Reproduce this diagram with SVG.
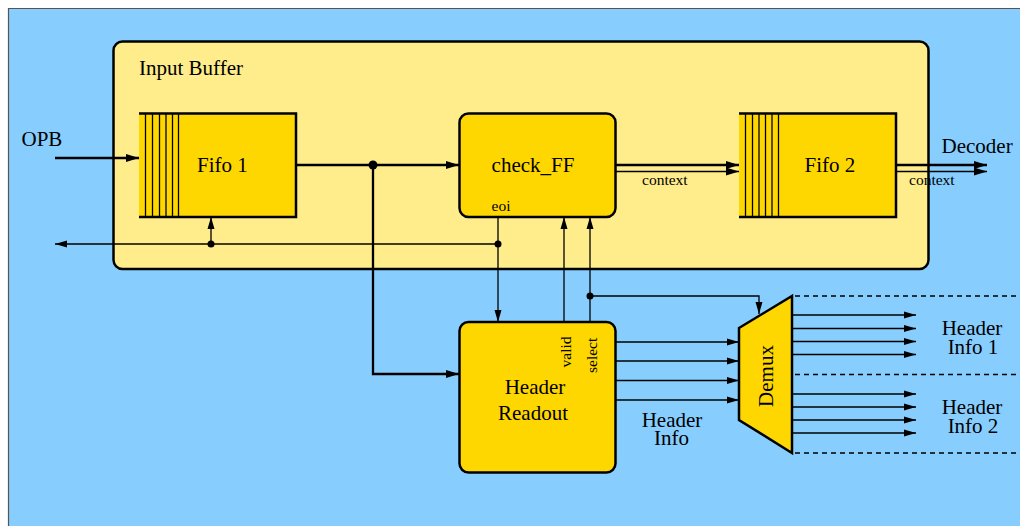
<svg xmlns="http://www.w3.org/2000/svg" width="1020" height="527" viewBox="0 0 1020 527" font-family="'Liberation Serif', 'DejaVu Serif', serif">
  <defs>
    <marker id="ah" viewBox="0 0 12 8" refX="12" refY="4" markerWidth="12" markerHeight="8" markerUnits="userSpaceOnUse" orient="auto">
      <path d="M0,0.5 L12,4 L0,7.5 Z" fill="#000"/>
    </marker>
    <marker id="ahb" viewBox="0 0 13 9" refX="13" refY="4.5" markerWidth="13" markerHeight="9" markerUnits="userSpaceOnUse" orient="auto">
      <path d="M0,0.5 L13,4.5 L0,8.5 Z" fill="#000"/>
    </marker>
  </defs>
  <style>
    text { font-family: 'Liberation Serif', 'DejaVu Serif', serif; fill: #000; }
    .lbl { font-size: 21px; }
    .sm { font-size: 15.5px; }
    .mid { text-anchor: middle; }
    .box { fill: #FFD700; stroke: #000; stroke-width: 2.5; }
    .edge { fill: none; stroke: #000; stroke-width: 2.5; }
    .slot { stroke: #000; stroke-width: 1.3; }
    .thick { fill: none; stroke: #000; stroke-width: 2.3; }
    .thin { fill: none; stroke: #000; stroke-width: 1.3; }
    .dash { fill: none; stroke: #000; stroke-width: 1.3; stroke-dasharray: 5 4; }
  </style>

  <!-- background panel -->
  <rect x="0" y="0" width="1020" height="527" fill="#fff"/>
  <rect x="9" y="9" width="1011" height="517" fill="#87CEFF"/>
  <path d="M8.5,526 V8.5 H1020" fill="none" stroke="#555" stroke-width="1.2"/>

  <!-- Input Buffer container -->
  <g id="input-buffer">
    <rect x="113.5" y="41.5" width="815" height="227.5" rx="9" fill="#FFEC8B" stroke="#000" stroke-width="2.5"/>
    <text class="lbl" x="139" y="74.5">Input Buffer</text>
  </g>

  <!-- Fifo 1 -->
  <g id="fifo1">
    <rect x="139" y="113.5" width="157" height="103.5" fill="#FFD700"/>
    <path class="edge" d="M139,113.5 H296 V217 H139"/>
    <g class="slot">
      <line x1="145.5" y1="113.5" x2="145.5" y2="217"/>
      <line x1="152.5" y1="113.5" x2="152.5" y2="217"/>
      <line x1="159.5" y1="113.5" x2="159.5" y2="217"/>
      <line x1="166" y1="113.5" x2="166" y2="217"/>
      <line x1="172.5" y1="113.5" x2="172.5" y2="217"/>
      <line x1="178.5" y1="113.5" x2="178.5" y2="217"/>
    </g>
    <text class="lbl mid" x="222.5" y="172">Fifo 1</text>
  </g>

  <!-- check_FF -->
  <g id="check-ff">
    <rect class="box" x="459.5" y="113.5" width="156" height="103.5" rx="9"/>
    <text class="lbl mid" x="533" y="171.5">check_FF</text>
    <text class="sm" x="491.5" y="210.5">eoi</text>
  </g>

  <!-- Fifo 2 -->
  <g id="fifo2">
    <rect x="739" y="113.5" width="157" height="103.5" fill="#FFD700"/>
    <path class="edge" d="M739,113.5 H896 V217 H739"/>
    <g class="slot">
      <line x1="745.5" y1="113.5" x2="745.5" y2="217"/>
      <line x1="752.5" y1="113.5" x2="752.5" y2="217"/>
      <line x1="759" y1="113.5" x2="759" y2="217"/>
      <line x1="765.5" y1="113.5" x2="765.5" y2="217"/>
      <line x1="772" y1="113.5" x2="772" y2="217"/>
      <line x1="778.5" y1="113.5" x2="778.5" y2="217"/>
    </g>
    <text class="lbl mid" x="830" y="171.5">Fifo 2</text>
  </g>

  <!-- Header Readout -->
  <g id="header-readout">
    <rect class="box" x="459.5" y="322" width="156" height="150.5" rx="9"/>
    <text class="lbl mid" x="535" y="394">Header</text>
    <text class="lbl mid" x="533" y="419.5">Readout</text>
    <text class="sm" transform="translate(570.5,367.5) rotate(-90)">valid</text>
    <text class="sm" transform="translate(596.5,373) rotate(-90)">select</text>
  </g>

  <!-- Demux -->
  <g id="demux">
    <path d="M739,328 L792,296 L792,453 L739,420 Z" fill="#FFD700" stroke="#000" stroke-width="2.5" stroke-linejoin="miter"/>
    <text class="lbl mid" transform="translate(772.5,376) rotate(-90)">Demux</text>
  </g>

  <!-- free labels -->
  <g id="labels">
    <text class="lbl" x="21.5" y="145.5">OPB</text>
    <text class="lbl" x="941.5" y="152.5">Decoder</text>
    <text class="sm" x="642" y="185">context</text>
    <text class="sm" x="909" y="184.5">context</text>
    <text class="lbl mid" x="672" y="426.5">Header</text>
    <text class="lbl mid" x="671.5" y="445">Info</text>
    <text class="lbl mid" x="972" y="335">Header</text>
    <text class="lbl mid" x="973" y="354">Info 1</text>
    <text class="lbl mid" x="972" y="414">Header</text>
    <text class="lbl mid" x="973" y="432.5">Info 2</text>
  </g>

  <!-- connectors -->
  <g id="connectors">
    <!-- main data path -->
    <line class="thick" x1="55" y1="158" x2="139" y2="158" marker-end="url(#ahb)"/>
    <line class="thick" x1="296" y1="165" x2="459" y2="165" marker-end="url(#ahb)"/>
    <path class="thick" d="M373,165 V374 H459" marker-end="url(#ahb)"/>
    <circle cx="373" cy="165" r="4.5" fill="#000"/>

    <!-- check_FF to Fifo 2 with context -->
    <line class="thick" x1="615.5" y1="165" x2="739" y2="165" marker-end="url(#ahb)"/>
    <line class="thin" x1="615.5" y1="171.5" x2="739" y2="171.5" marker-end="url(#ahb)"/>

    <!-- Fifo 2 to Decoder with context -->
    <line class="thick" x1="896" y1="165" x2="987" y2="165" marker-end="url(#ahb)"/>
    <line class="thin" x1="896" y1="171.5" x2="987" y2="171.5" marker-end="url(#ahb)"/>

    <!-- eoi feedback -->
    <line class="thin" x1="498" y1="244" x2="55" y2="244" marker-end="url(#ah)"/>
    <line class="thin" x1="211" y1="244" x2="211" y2="217" marker-end="url(#ah)"/>
    <line class="thin" x1="498" y1="217" x2="498" y2="322" marker-end="url(#ah)"/>
    <circle cx="211" cy="244" r="3.5" fill="#000"/>
    <circle cx="498" cy="244" r="3.5" fill="#000"/>

    <!-- valid / select -->
    <line class="thin" x1="564" y1="322" x2="564" y2="217" marker-end="url(#ah)"/>
    <line class="thin" x1="590" y1="322" x2="590" y2="217" marker-end="url(#ah)"/>
    <path class="thin" d="M590,296 H759 V314" marker-end="url(#ah)"/>
    <circle cx="590" cy="296" r="3.5" fill="#000"/>

    <!-- header info into demux -->
    <line class="thin" x1="615.5" y1="342" x2="739" y2="342" marker-end="url(#ah)"/>
    <line class="thin" x1="615.5" y1="361" x2="739" y2="361" marker-end="url(#ah)"/>
    <line class="thin" x1="615.5" y1="380.5" x2="739" y2="380.5" marker-end="url(#ah)"/>
    <line class="thin" x1="615.5" y1="400" x2="739" y2="400" marker-end="url(#ah)"/>

    <!-- demux outputs -->
    <line class="thin" x1="792" y1="315" x2="916" y2="315" marker-end="url(#ah)"/>
    <line class="thin" x1="792" y1="328.5" x2="916" y2="328.5" marker-end="url(#ah)"/>
    <line class="thin" x1="792" y1="341.5" x2="916" y2="341.5" marker-end="url(#ah)"/>
    <line class="thin" x1="792" y1="354.5" x2="916" y2="354.5" marker-end="url(#ah)"/>
    <line class="thin" x1="792" y1="394" x2="916" y2="394" marker-end="url(#ah)"/>
    <line class="thin" x1="792" y1="407" x2="916" y2="407" marker-end="url(#ah)"/>
    <line class="thin" x1="792" y1="420" x2="916" y2="420" marker-end="url(#ah)"/>
    <line class="thin" x1="792" y1="433" x2="916" y2="433" marker-end="url(#ah)"/>

    <!-- group separators -->
    <line class="dash" x1="795" y1="296" x2="1020" y2="296"/>
    <line class="dash" x1="795" y1="374.5" x2="1020" y2="374.5"/>
    <line class="dash" x1="795" y1="453" x2="1020" y2="453"/>
  </g>
</svg>
